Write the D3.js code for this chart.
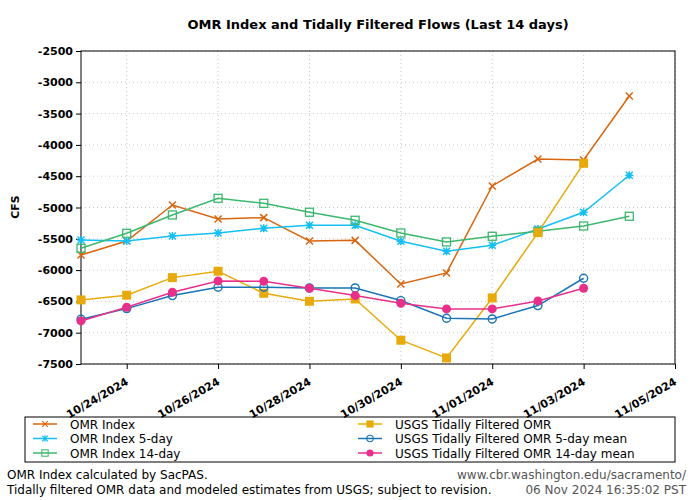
<!DOCTYPE html>
<html><head><meta charset="utf-8">
<script src="https://cdn.jsdelivr.net/npm/d3@7"></script>
<style>body{margin:0;background:#fff;} svg{font-family:"DejaVu Sans",sans-serif;}</style>
</head><body><svg id="c" width="700" height="500"></svg>
<script>
const dates = ["2024-10-23","2024-10-24","2024-10-25","2024-10-26","2024-10-27","2024-10-28","2024-10-29","2024-10-30","2024-10-31","2024-11-01","2024-11-02","2024-11-03","2024-11-04"];
const omrIndex = [-5760,-5535,-4960,-5183,-5162,-5535,-5525,-6221,-6045,-4656,-4225,-4241,-3219];
const omr5day = [-5518,-5535,-5455,-5407,-5331,-5284,-5284,-5540,-5700,-5604,-5343,-5076,-4485];
const omr14day = [-5652,-5412,-5119,-4853,-4933,-5076,-5204,-5407,-5550,-5460,-5380,-5295,-5140];
const usgsOmr = [-6476,-6401,-6120,-6018,-6370,-6498,-6461,-7120,-7403,-6445,-5401,-4294,null];
const usgs5day = [-6785,-6615,-6407,-6274,-6274,-6285,-6285,-6487,-6769,-6780,-6567,-6130,null];
const usgs14day = [-6812,-6593,-6353,-6173,-6178,-6290,-6407,-6530,-6620,-6620,-6492,-6290,null];
const xTickDates = ["2024-10-24","2024-10-26","2024-10-28","2024-10-30","2024-11-01","2024-11-03","2024-11-05"];
const yTicks = [-2500,-3000,-3500,-4000,-4500,-5000,-5500,-6000,-6500,-7000,-7500];

const series = [
  {name:"OMR Index", values:omrIndex, color:"#D9650F", marker:"x"},
  {name:"OMR Index 5-day", values:omr5day, color:"#14BFF5", marker:"star"},
  {name:"OMR Index 14-day", values:omr14day, color:"#3CB86E", marker:"osq"},
  {name:"USGS Tidally Filtered OMR", values:usgsOmr, color:"#E8AA0A", marker:"fsq"},
  {name:"USGS Tidally Filtered OMR 5-day mean", values:usgs5day, color:"#1A74B5", marker:"ocirc"},
  {name:"USGS Tidally Filtered OMR 14-day mean", values:usgs14day, color:"#E8308A", marker:"fcirc"}
];

const parse = d3.timeParse("%Y-%m-%d");
const fmt = d3.timeFormat("%m/%d/%Y");
const svg = d3.select("#c");
const L=81,R=675,T=51,B=364;
const x = d3.scaleTime().domain([parse("2024-10-23"), parse("2024-11-05")]).range([L,R]);
const y = d3.scaleLinear().domain([-7500,-2500]).range([B,T]);

// grid
const g = svg.append("g");
g.selectAll("line.gy").data(yTicks).join("line")
  .attr("x1",L).attr("x2",R).attr("y1",d=>y(d)).attr("y2",d=>y(d))
  .attr("stroke","#c8c8c8").attr("stroke-dasharray","1,3").attr("stroke-width",1);
g.selectAll("line.gx").data(xTickDates).join("line")
  .attr("x1",d=>x(parse(d))).attr("x2",d=>x(parse(d))).attr("y1",T).attr("y2",B)
  .attr("stroke","#c8c8c8").attr("stroke-dasharray","1,3").attr("stroke-width",1);

// axes
const yAxis = d3.axisLeft(y).tickValues(yTicks).tickSize(5).tickPadding(3).tickFormat(d=>String(d));
const ya = svg.append("g").attr("transform",`translate(${L},0)`).call(yAxis);
ya.selectAll("text").attr("font-size","11px").attr("font-weight","bold").attr("font-family","DejaVu Sans").attr("fill","#000");
ya.select(".domain").remove();
const xAxis = d3.axisBottom(x).tickValues(xTickDates.map(parse)).tickSize(5).tickFormat(fmt);
const xa = svg.append("g").attr("transform",`translate(0,${B})`).call(xAxis);
xa.select(".domain").remove();
xa.selectAll("text").attr("font-size","11px").attr("font-weight","bold").attr("font-family","DejaVu Sans")
  .attr("text-anchor","end").attr("dy",null).attr("y",0)
  .attr("transform","translate(2,20) rotate(-30)");

svg.append("rect").attr("x",L).attr("y",T).attr("width",R-L).attr("height",B-T)
  .attr("fill","none").attr("stroke","#000").attr("stroke-width",1);

function drawMarker(sel, type, color){
  if(type==="x"){
    sel.append("path").attr("d","M-3.5,-3.5L3.5,3.5M-3.5,3.5L3.5,-3.5").attr("stroke",color).attr("stroke-width",1.5).attr("fill","none");
  } else if(type==="star"){
    sel.append("path").attr("d","M-3.5,-3.5L3.5,3.5M-3.5,3.5L3.5,-3.5M0,-4L0,4M-4,0L4,0").attr("stroke",color).attr("stroke-width",1.5).attr("fill","none");
  } else if(type==="osq"){
    sel.append("rect").attr("x",-4).attr("y",-4).attr("width",8).attr("height",8).attr("fill","#fff").attr("fill-opacity",0).attr("stroke",color).attr("stroke-width",1.3);
  } else if(type==="fsq"){
    sel.append("rect").attr("x",-4.5).attr("y",-4.5).attr("width",9).attr("height",9).attr("fill",color);
  } else if(type==="ocirc"){
    sel.append("circle").attr("r",4).attr("fill","none").attr("stroke",color).attr("stroke-width",1.4);
  } else if(type==="fcirc"){
    sel.append("circle").attr("r",4.5).attr("fill",color);
  }
}

const line = d3.line().defined(d=>d.v!==null).x(d=>x(d.d)).y(d=>y(d.v));
series.forEach(s=>{
  const pts = dates.map((d,i)=>({d:parse(d), v:s.values[i]}));
  svg.append("path").datum(pts).attr("d",line).attr("fill","none").attr("stroke",s.color).attr("stroke-width",1.5);
  pts.filter(p=>p.v!==null).forEach(p=>{
    const m = svg.append("g").attr("transform",`translate(${x(p.d)},${y(p.v)})`);
    drawMarker(m, s.marker, s.color);
  });
});

// title
svg.append("text").attr("x",378).attr("y",29).attr("text-anchor","middle")
  .attr("font-size","13px").attr("font-weight","bold").text("OMR Index and Tidally Filtered Flows (Last 14 days)");
svg.append("text").attr("transform","translate(19,207) rotate(-90)").attr("text-anchor","middle")
  .attr("font-size","11px").attr("font-weight","bold").text("CFS");

// legend
svg.append("rect").attr("x",25).attr("y",417).attr("width",650).attr("height",45).attr("fill","none").attr("stroke","#000");
series.forEach((s,i)=>{
  const col = i<3?0:1, row=i%3;
  const lx = col===0?33:358, ly = 424+row*14.5;
  const lg = svg.append("g");
  lg.append("line").attr("x1",lx).attr("x2",lx+24).attr("y1",ly).attr("y2",ly).attr("stroke",s.color).attr("stroke-width",1.5);
  const m = lg.append("g").attr("transform",`translate(${lx+12},${ly}) scale(0.8)`);
  drawMarker(m, s.marker, s.color);
  lg.append("text").attr("x",lx+37).attr("y",ly+4.5).attr("font-size","12px").text(s.name);
});

// footer
svg.append("text").attr("x",7).attr("y",479).attr("font-size","12px").text("OMR Index calculated by SacPAS.");
svg.append("text").attr("x",7).attr("y",494).attr("font-size","12px").text("Tidally filtered OMR data and modeled estimates from USGS; subject to revision.");
svg.append("text").attr("x",686).attr("y",479).attr("text-anchor","end").attr("font-size","12px").attr("fill","#555").text("www.cbr.washington.edu/sacramento/");
svg.append("text").attr("x",686).attr("y",494).attr("text-anchor","end").attr("font-size","12px").attr("fill","#555").text("06 Nov 2024 16:35:02 PST");
</script></body></html>
